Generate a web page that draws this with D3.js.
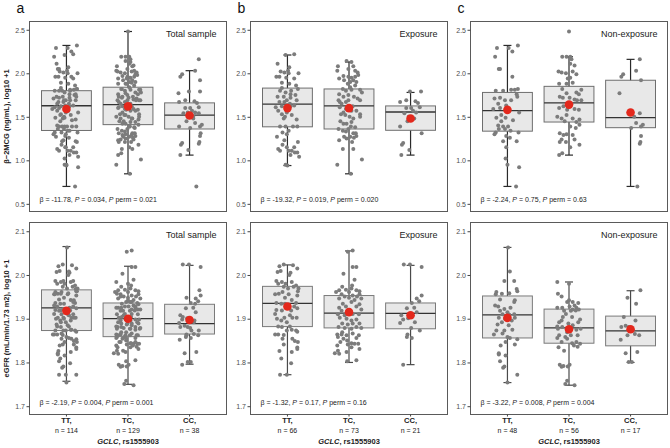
<!DOCTYPE html>
<html><head><meta charset="utf-8">
<script src="https://cdn.jsdelivr.net/npm/d3@7"></script>
<style>body{margin:0;background:#fff} svg{display:block;font-family:'Liberation Sans',Arial,Helvetica,sans-serif}</style>
</head><body><svg id="chart" width="670" height="448"></svg>
<script>
// ---------------- DATA ----------------
const genotypes = ["TT", "TC", "CC"];
const groupLabels = ["Total sample", "Exposure", "Non-exposure"];
const panelLetters = ["a", "b", "c"];
const nTotal = [114, 129, 38];
const nExposure = [66, 73, 21];
const nNonExposure = [48, 56, 17];
const b2mTicks = [0.5, 1.0, 1.5, 2.0, 2.5];
const egfrTicks = [1.7, 1.8, 1.9, 2.0, 2.1];
const b2mDomain = [0.412, 2.595];
const egfrDomain = [1.681, 2.12];
const b2mTitle = "β−2MCG (ng/mL), log10 +1";
const egfrTitle = "eGFR (mL/min/1.73 m2), log10 +1";
const xTitleGene = "GCLC";
const xTitleSnp = ", rs1555903";

// statistics: [beta, P, P perm]
const b2mStats = [["-11.78", "0.034", "0.021"], ["-19.32", "0.019", "0.020"], ["-2.24", "0.75", "0.63"]];
const egfrStats = [["-2.19", "0.004", "0.001"], ["-1.32", "0.17", "0.16"], ["-3.22", "0.008", "0.004"]];

// box statistics per genotype: [whisker low, Q1, median, Q3, whisker high, mean]
const b2mBoxTotal = [[0.70, 1.343, 1.627, 1.80, 2.32, 1.59], [0.845, 1.41, 1.64, 1.84, 2.48, 1.62], [1.06, 1.36, 1.52, 1.66, 2.03, 1.515]];
const b2mBoxExposure = [[0.94, 1.385, 1.645, 1.83, 2.21, 1.60], [0.845, 1.36, 1.625, 1.82, 2.13, 1.60], [1.06, 1.345, 1.555, 1.625, 1.78, 1.48]];
const b2mBoxNonExposure = [[0.70, 1.335, 1.57, 1.78, 2.32, 1.58], [1.06, 1.44, 1.66, 1.85, 2.19, 1.64], [0.70, 1.375, 1.49, 1.92, 2.16, 1.55]];
const egfrBoxTotal = [[1.757, 1.873, 1.925, 1.966, 2.065, 1.918], [1.75, 1.859, 1.90, 1.936, 2.02, 1.90], [1.796, 1.865, 1.889, 1.933, 2.022, 1.897]];
const egfrBoxExposure = [[1.772, 1.882, 1.935, 1.974, 2.023, 1.928], [1.80, 1.879, 1.913, 1.953, 2.055, 1.915], [1.795, 1.877, 1.912, 1.936, 2.022, 1.908]];
const egfrBoxNonExposure = [[1.754, 1.856, 1.909, 1.952, 2.063, 1.902], [1.748, 1.844, 1.879, 1.922, 1.984, 1.876], [1.80, 1.838, 1.872, 1.906, 1.964, 1.876]];

// individual observations: [jitter offset (category units), value]
const b2mExpTT = [[0.11,2.22],[-0.03,2.21],[-0.16,2.11],[-0.18,1.96],[-0.11,2.02],[-0.05,2.01],[0.01,2.03],[0.02,2.00],[0.18,2.00],[-0.02,1.95],[0.11,1.94],[-0.09,1.89],[0.03,1.88],[0.14,1.86],[0.17,1.82],[-0.09,1.83],[-0.12,1.80],[-0.03,1.78],[0.05,1.76],[-0.16,1.73],[-0.06,1.73],[-0.01,1.69],[0.05,1.72],[0.15,1.69],[-0.13,1.67],[-0.05,1.67],[-0.19,1.61],[-0.09,1.62],[-0.15,1.57],[-0.02,1.58],[0.05,1.62],[-0.09,1.53],[-0.01,1.55],[0.15,1.47],[-0.12,1.39],[-0.03,1.39],[0.09,1.39],[0.16,1.39],[0.02,1.34],[-0.17,1.27],[-0.01,1.30],[-0.05,1.23],[-0.08,1.18],[0.17,1.21],[-0.15,1.13],[-0.01,1.15],[0.02,1.11],[0.07,1.11],[0.12,1.09],[0.16,1.09],[0.05,1.06],[0.19,1.04],[-0.03,0.95],[0.0,0.94],[0.04,1.65],[0.11,1.63],[-0.06,1.48],[0.07,1.52],[-0.13,1.96],[0.06,1.80],[-0.08,1.32],[0.11,1.15],[-0.12,1.11],[0.03,2.07],[0.13,1.75],[-0.04,1.50]];
const b2mExpTC = [[-0.04,2.14],[0.04,2.13],[-0.18,2.08],[-0.19,2.03],[0.07,2.08],[-0.01,2.05],[0.10,2.03],[0.14,2.01],[-0.09,1.97],[-0.01,1.96],[0.04,1.95],[0.10,1.96],[0.07,1.92],[-0.16,1.94],[0.02,1.90],[-0.02,1.88],[0.12,1.90],[0.10,1.86],[-0.10,1.82],[-0.05,1.80],[0.04,1.81],[0.18,1.81],[0.21,1.78],[-0.16,1.76],[-0.09,1.73],[-0.01,1.75],[0.08,1.73],[0.14,1.71],[0.18,1.69],[-0.17,1.69],[-0.12,1.65],[-0.05,1.67],[0.06,1.62],[-0.15,1.61],[-0.05,1.59],[0.04,1.57],[0.12,1.57],[0.18,1.53],[-0.13,1.53],[-0.06,1.52],[0.01,1.50],[0.07,1.48],[0.18,1.50],[-0.14,1.45],[-0.09,1.42],[-0.04,1.42],[0.03,1.39],[-0.17,1.36],[-0.10,1.34],[-0.05,1.33],[0.07,1.31],[0.11,1.31],[-0.08,1.27],[0.02,1.27],[0.08,1.26],[0.12,1.28],[-0.16,1.23],[-0.04,1.25],[0.05,1.21],[0.07,1.13],[-0.10,1.13],[0.21,1.01],[-0.19,0.95],[0.03,0.845],[0.02,1.84],[-0.08,1.92],[0.15,1.98],[-0.01,1.69],[-0.09,1.55],[0.04,1.44],[-0.01,1.36],[-0.15,1.67],[0.10,1.38]];
const b2mExpCC = [[-0.01,1.79],[0.17,1.79],[-0.17,1.67],[0.08,1.68],[-0.07,1.60],[0.01,1.60],[0.15,1.61],[0.04,1.57],[-0.03,1.50],[-0.05,1.45],[-0.17,1.39],[0.18,1.31],[-0.12,1.20],[-0.14,1.18],[-0.02,1.12],[-0.15,1.06],[0.09,1.55],[-0.10,1.54],[0.06,1.48],[0.12,1.66],[-0.07,1.69]];
const b2mNonTT = [[-0.17,2.29],[0.02,2.29],[0.17,2.32],[0.08,2.25],[-0.20,2.19],[-0.14,2.05],[-0.12,2.05],[0.08,1.96],[-0.19,1.80],[-0.07,1.80],[0.06,1.81],[0.12,1.81],[0.17,1.82],[0.15,1.76],[0.16,1.73],[-0.21,1.71],[-0.12,1.72],[-0.04,1.69],[0.06,1.69],[-0.15,1.65],[-0.02,1.63],[-0.12,1.60],[-0.23,1.59],[0.19,1.55],[0.03,1.57],[-0.18,1.49],[-0.10,1.52],[-0.03,1.49],[-0.15,1.40],[-0.07,1.39],[0.01,1.39],[-0.04,1.36],[-0.19,1.32],[-0.21,1.30],[-0.14,1.36],[0.05,1.34],[0.18,1.32],[-0.02,1.28],[0.04,1.26],[-0.07,1.22],[0.15,1.22],[-0.02,1.15],[-0.03,1.02],[0.0,0.95],[0.19,0.92],[0.14,0.70],[-0.10,1.45],[0.09,1.46]];
const b2mNonTC = [[0,2.48],[-0.11,2.19],[-0.04,2.19],[0.02,2.19],[0.02,2.11],[0.04,2.16],[0.09,2.09],[-0.12,2.01],[-0.17,2.02],[-0.05,2.00],[0.06,2.02],[0.12,1.99],[0.02,1.95],[-0.16,1.88],[-0.04,1.88],[0.06,1.89],[0.20,1.81],[-0.11,1.82],[-0.04,1.77],[0.12,1.78],[0.16,1.76],[-0.15,1.73],[-0.10,1.72],[0.01,1.72],[0.09,1.70],[0.13,1.69],[0.20,1.69],[-0.16,1.60],[-0.09,1.62],[-0.03,1.58],[0.09,1.59],[0.16,1.58],[-0.19,1.50],[-0.12,1.48],[-0.04,1.52],[0.06,1.48],[0.17,1.47],[-0.07,1.45],[0.12,1.44],[0.17,1.41],[0.02,1.39],[0.11,1.37],[-0.15,1.31],[-0.04,1.30],[-0.09,1.29],[0.06,1.29],[0.09,1.24],[-0.12,1.24],[-0.05,1.21],[-0.15,1.21],[0.02,1.15],[0.17,1.18],[-0.11,1.08],[-0.16,1.06],[0.04,1.65],[-0.02,1.94]];
const b2mNonCC = [[0.15,2.16],[0.09,2.03],[-0.12,1.99],[-0.15,1.96],[0.17,1.92],[-0.18,1.77],[0.15,1.54],[0.06,1.50],[0.09,1.43],[0.20,1.41],[0.17,1.39],[0.01,1.37],[0.17,1.28],[0.16,1.21],[0.15,1.19],[0.11,0.70],[-0.03,1.55]];
const egfrExpTT = [[-0.06,2.024],[-0.13,2.02],[0.09,2.022],[0.16,2.015],[-0.16,2.007],[-0.11,2.009],[0.05,2.005],[0.03,2.0],[-0.18,1.986],[-0.09,1.984],[-0.03,1.98],[0.07,1.984],[0.14,1.976],[-0.15,1.98],[-0.06,1.973],[0.01,1.969],[0.10,1.973],[0.18,1.969],[0.17,1.963],[-0.08,1.961],[-0.20,1.956],[-0.14,1.957],[0.02,1.956],[0.16,1.953],[-0.04,1.948],[0.07,1.943],[0.14,1.936],[-0.18,1.936],[-0.10,1.934],[0.11,1.928],[0.16,1.924],[-0.18,1.92],[-0.09,1.919],[0.06,1.919],[-0.20,1.911],[0.04,1.908],[-0.05,1.902],[0.08,1.902],[0.15,1.902],[-0.17,1.90],[-0.10,1.896],[-0.01,1.892],[-0.15,1.882],[-0.09,1.881],[0.04,1.882],[0.14,1.873],[0.16,1.87],[-0.01,1.873],[0.07,1.875],[-0.20,1.864],[-0.15,1.864],[-0.06,1.863],[-0.08,1.854],[0.08,1.854],[0.12,1.849],[0.17,1.847],[-0.06,1.841],[0.16,1.834],[0.16,1.831],[-0.13,1.826],[0.07,1.824],[-0.10,1.809],[0.06,1.798],[-0.12,1.772],[-0.01,1.772],[-0.04,1.934]];
const egfrExpTC = [[0.06,2.056],[-0.02,2.053],[0.06,2.018],[0.12,2.018],[-0.09,2.003],[0.09,1.989],[0.05,1.976],[-0.11,1.973],[-0.16,1.965],[-0.05,1.966],[0.04,1.969],[0.12,1.965],[0.17,1.963],[-0.21,1.961],[0,1.961],[-0.12,1.956],[-0.07,1.951],[0.06,1.953],[0.13,1.951],[0.17,1.956],[-0.16,1.946],[0,1.948],[0.09,1.943],[0.20,1.946],[0.04,1.938],[-0.10,1.934],[-0.16,1.925],[-0.05,1.928],[0.12,1.928],[0.17,1.933],[-0.12,1.918],[-0.18,1.91],[-0.07,1.908],[0.06,1.911],[0.16,1.91],[0.20,1.921],[-0.15,1.902],[-0.04,1.90],[0.04,1.896],[0.12,1.898],[-0.11,1.889],[-0.02,1.887],[0.17,1.889],[-0.17,1.881],[-0.07,1.879],[0.04,1.877],[0.12,1.881],[0.20,1.879],[-0.19,1.864],[-0.12,1.864],[-0.04,1.862],[0.06,1.866],[0.16,1.862],[-0.18,1.858],[-0.09,1.854],[0.12,1.856],[-0.03,1.85],[-0.14,1.847],[0.04,1.844],[0.09,1.843],[0.15,1.843],[-0.19,1.839],[-0.02,1.841],[0.17,1.831],[-0.18,1.827],[-0.04,1.824],[0.04,1.835],[-0.23,1.821],[-0.16,1.82],[0.12,1.805],[-0.03,1.803],[-0.11,1.869],[0.06,1.889]];
const egfrExpCC = [[-0.11,2.024],[-0.01,2.024],[0.18,2.018],[0.18,1.953],[0.10,1.946],[0.14,1.94],[0.02,1.936],[-0.06,1.924],[0.06,1.925],[0.10,1.915],[-0.17,1.89],[-0.12,1.898],[0.01,1.879],[0.15,1.873],[-0.05,1.864],[-0.06,1.858],[0.02,1.856],[-0.12,1.795],[-0.04,1.901],[0.07,1.892],[-0.15,1.908]];
const egfrNonTT = [[0.04,2.008],[-0.05,1.986],[0.11,1.986],[0.15,1.968],[0.16,1.963],[-0.18,1.961],[-0.19,1.956],[-0.09,1.957],[0.03,1.958],[0.12,1.942],[-0.12,1.944],[0.11,1.938],[-0.15,1.928],[-0.05,1.922],[0.05,1.925],[-0.08,1.91],[0.03,1.909],[0.11,1.91],[-0.14,1.902],[-0.04,1.90],[0.12,1.902],[-0.09,1.892],[-0.18,1.873],[-0.05,1.873],[0.08,1.875],[-0.22,1.864],[0,1.858],[0.04,1.856],[0.16,1.853],[-0.03,1.847],[-0.11,1.839],[-0.14,1.821],[-0.14,1.818],[-0.03,1.816],[-0.12,1.803],[-0.05,1.791],[-0.07,1.788],[0.16,1.772],[0,1.754],[-0.12,1.918],[0,1.915],[0.07,1.896],[-0.16,1.887],[0.02,1.885],[-0.08,1.866],[0.12,1.841],[-0.20,1.93],[0.01,2.063]];
const egfrNonTC = [[-0.19,1.984],[0,1.98],[-0.18,1.957],[-0.12,1.951],[0,1.942],[-0.03,1.938],[0.06,1.938],[0.15,1.936],[-0.19,1.925],[-0.11,1.925],[0.01,1.928],[0.09,1.93],[0.12,1.925],[0.16,1.921],[-0.08,1.918],[0.03,1.918],[0.11,1.919],[0.06,1.921],[-0.10,1.904],[-0.12,1.896],[0.18,1.898],[-0.19,1.882],[-0.01,1.889],[0.06,1.885],[0.19,1.877],[0.12,1.875],[-0.18,1.877],[-0.16,1.862],[-0.19,1.856],[-0.06,1.858],[0.03,1.862],[-0.03,1.869],[-0.12,1.847],[0.05,1.844],[0.12,1.847],[0.18,1.843],[-0.17,1.835],[0.08,1.839],[0.14,1.836],[-0.15,1.795],[-0.09,1.792],[-0.02,1.791],[-0.12,1.79],[0.01,1.795],[-0.06,1.751],[0.09,1.748],[-0.03,1.758],[-0.05,1.911],[0.05,1.904],[-0.16,1.892],[0.15,1.892],[-0.03,1.854],[-0.11,1.881],[0.03,1.877],[0.14,1.862],[-0.08,1.827]];
const egfrNonCC = [[0.16,1.965],[-0.05,1.948],[0.09,1.934],[-0.15,1.881],[-0.16,1.852],[0.07,1.865],[-0.08,1.821],[0.11,1.824],[-0.03,1.801],[0.02,1.801],[-0.03,1.881],[0.03,1.873],[-0.08,1.884],[0.08,1.896],[-0.11,1.904],[0.14,1.862],[-0.05,1.862]];

// ---------------- LAYOUT / STYLE ----------------
const svg = d3.select("#chart");
const colLeft = [29.5, 250.5, 470.5];
const panelW = 197;
const rowTop = [21.5, 222.5];
const rowBottom = [211.5, 414.5];
const pointColor = "#7c7c7c";
const meanColor = "#e3281c";
const boxFill = "#e8e8e8";

const rows = [
  { domain: b2mDomain, ticks: b2mTicks, title: b2mTitle, stats: b2mStats,
    boxes: [b2mBoxTotal, b2mBoxExposure, b2mBoxNonExposure],
    points: [
      [b2mExpTT.concat(b2mNonTT), b2mExpTC.concat(b2mNonTC), b2mExpCC.concat(b2mNonCC)],
      [b2mExpTT, b2mExpTC, b2mExpCC],
      [b2mNonTT, b2mNonTC, b2mNonCC]], whisker: "#2a2a2a", boxStroke: "#6e6e6e" },
  { domain: egfrDomain, ticks: egfrTicks, title: egfrTitle, stats: egfrStats,
    boxes: [egfrBoxTotal, egfrBoxExposure, egfrBoxNonExposure],
    points: [
      [egfrExpTT.concat(egfrNonTT), egfrExpTC.concat(egfrNonTC), egfrExpCC.concat(egfrNonCC)],
      [egfrExpTT, egfrExpTC, egfrExpCC],
      [egfrNonTT, egfrNonTC, egfrNonCC]], whisker: "#4a4a4a", boxStroke: "#7a7a7a" }
];
const nLabels = [nTotal, nExposure, nNonExposure];

rows.forEach((row, r) => {
  const y = d3.scaleLinear().domain(row.domain).range([rowBottom[r], rowTop[r]]);
  for (let c = 0; c < 3; c++) {
    const left = colLeft[c], right = left + panelW;
    const x = d3.scalePoint().domain(genotypes).range([left, right]).padding(0.6);
    const unit = x.step();
    const g = svg.append("g");

    // frame
    g.append("rect").attr("x", left).attr("y", rowTop[r])
      .attr("width", panelW).attr("height", rowBottom[r] - rowTop[r])
      .attr("fill", "#fff").attr("stroke", "#5a5a5a").attr("stroke-width", 1);

    // y axis
    const ya = g.append("g").attr("transform", `translate(${left},0)`)
      .call(d3.axisLeft(y).tickValues(row.ticks).tickFormat(d3.format(".1f")).tickSize(3).tickPadding(1.5));
    ya.select(".domain").remove();
    ya.selectAll(".tick line").attr("stroke", "#444");
    ya.selectAll(".tick text").attr("fill", "#4d4d4d").style("font-size", "7px")
      .style("font-family", "'Liberation Sans',Arial,sans-serif");

    // boxes
    const boxes = row.boxes[c];
    const bw = unit * 0.81, cap = 8;
    genotypes.forEach((gt, i) => {
      const [lo, q1, med, q3, hi] = boxes[i];
      const cx = x(gt);
      g.append("line").attr("x1", cx).attr("x2", cx).attr("y1", y(lo)).attr("y2", y(hi))
        .attr("stroke", row.whisker).attr("stroke-width", 1.2);
      [lo, hi].forEach(v => g.append("line").attr("x1", cx - cap / 2).attr("x2", cx + cap / 2)
        .attr("y1", y(v)).attr("y2", y(v)).attr("stroke", row.whisker).attr("stroke-width", 1.2));
      g.append("rect").attr("x", cx - bw / 2).attr("y", y(q3)).attr("width", bw)
        .attr("height", y(q1) - y(q3)).attr("fill", boxFill).attr("stroke", row.boxStroke).attr("stroke-width", 1);
      g.append("line").attr("x1", cx - bw / 2).attr("x2", cx + bw / 2).attr("y1", y(med)).attr("y2", y(med))
        .attr("stroke", "#333").attr("stroke-width", 1.3);
    });

    // points
    genotypes.forEach((gt, i) => {
      g.append("g").selectAll("circle").data(row.points[c][i]).join("circle")
        .attr("cx", d => x(gt) + d[0] * unit).attr("cy", d => y(d[1])).attr("r", 2)
        .attr("fill", pointColor);
    });

    // means
    genotypes.forEach((gt, i) => {
      g.append("circle").attr("cx", x(gt)).attr("cy", y(boxes[i][5])).attr("r", 4.3).attr("fill", meanColor);
    });

    // subtitle
    g.append("text").attr("x", right - 10).attr("y", rowTop[r] + 15.2).attr("text-anchor", "end")
      .attr("font-size", 9).attr("fill", "#222").text(groupLabels[c]);

    // statistics annotation
    const s = row.stats[c];
    const t = g.append("text").attr("x", left + 10).attr("y", rowBottom[r] - 9.6)
      .attr("font-size", 7).attr("fill", "#222");
    t.append("tspan").text(`β = ${s[0]}, `);
    t.append("tspan").attr("font-style", "italic").text("P");
    t.append("tspan").text(` = ${s[1]}, `);
    t.append("tspan").attr("font-style", "italic").text("P");
    t.append("tspan").text(` perm = ${s[2]}`);

    // panel letter
    if (r === 0) {
      svg.append("text").attr("x", left - 13).attr("y", 12.7).attr("font-size", 14)
        .attr("fill", "#111").text(panelLetters[c]);
    }
    // y title
    if (c === 0) {
      svg.append("text").attr("transform", `translate(8.5,${(rowTop[r] + rowBottom[r]) / 2}) rotate(-90)`)
        .attr("text-anchor", "middle").attr("font-size", 7.5).attr("font-weight", "bold")
        .attr("fill", "#222").text(row.title);
    }
    // x axis for bottom row
    if (r === 1) {
      genotypes.forEach((gt, i) => {
        g.append("line").attr("x1", x(gt)).attr("x2", x(gt)).attr("y1", rowBottom[r]).attr("y2", rowBottom[r] + 2)
          .attr("stroke", "#444");
        g.append("text").attr("x", x(gt)).attr("y", 422.8).attr("text-anchor", "middle")
          .attr("font-size", 7.6).attr("font-weight", "bold").attr("fill", "#222").text(gt + ",");
        g.append("text").attr("x", x(gt)).attr("y", 432.5).attr("text-anchor", "middle")
          .attr("font-size", 7).attr("fill", "#222").text(`n = ${nLabels[c][i]}`);
      });
      const xt = g.append("text").attr("x", (left + right) / 2).attr("y", 443.5).attr("text-anchor", "middle")
        .attr("font-size", 7.5).attr("font-weight", "bold").attr("fill", "#222");
      xt.append("tspan").attr("font-style", "italic").text(xTitleGene);
      xt.append("tspan").text(xTitleSnp);
    }
  }
});
</script>
</body></html>
